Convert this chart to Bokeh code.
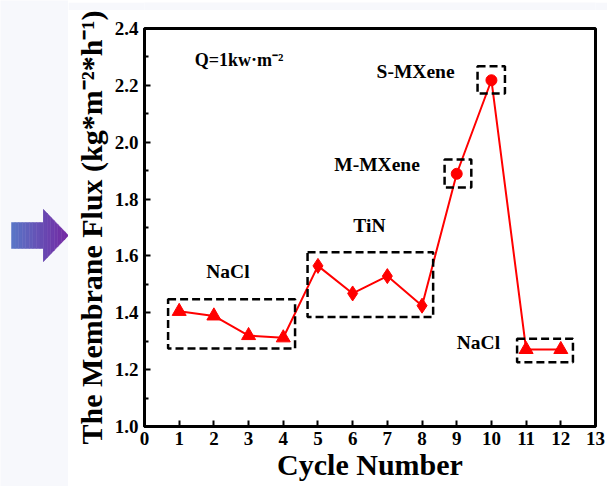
from bokeh.plotting import figure
from bokeh.layouts import row, column
from bokeh.models import ColumnDataSource, FixedTicker, Range1d, NumeralTickFormatter
from bokeh.core.properties import value
from bokeh.embed import file_html
from bokeh.resources import INLINE

# ---- data ----
cycles = [1, 2, 3, 4, 5, 6, 7, 8, 9, 10, 11, 12]
flux = [1.405, 1.389, 1.320, 1.312, 1.565, 1.468, 1.529, 1.425, 1.889, 2.218, 1.271, 1.271]
markers = ["triangle"] * 4 + ["diamond"] * 4 + ["circle"] * 2 + ["triangle"] * 2
msizes = [14] * 4 + [15] * 4 + [11] * 2 + [14] * 2

x_ticks = list(range(0, 14))
y_ticks = [1.0, 1.2, 1.4, 1.6, 1.8, 2.0, 2.2, 2.4]
y_minor = [1.1, 1.3, 1.5, 1.7, 1.9, 2.1, 2.3]

box_left = [0.68, 4.70, 8.65, 9.60, 10.74]
box_right = [4.34, 8.32, 9.42, 10.39, 12.35]
box_bottom = [1.274, 1.385, 1.841, 2.171, 1.226]
box_top = [1.448, 1.613, 1.939, 2.267, 1.309]

label_text = ["NaCl", "TiN", "M-MXene", "S-MXene", "NaCl"]
label_x = [1.78, 6.02, 5.47, 6.69, 9.00]
label_y = [1.544, 1.706, 1.921, 2.250, 1.297]

note_text = ["Q=1kw·m⁻²"]
note_x = [1.45]
note_y = [2.29]

# decorative arrow in the side panel (pixel units of that panel, y up)
arrow_xs = [11, 43, 43, 68, 43, 43, 11]
arrow_ys = [264, 264, 277, 251, 225, 238, 238]

FONT = "Liberation Serif"
PANEL_BG = "#f7f8fc"


def blank(width, height, xr, yr):
    f = figure(width=width, height=height, output_backend="svg", toolbar_location=None,
               x_range=Range1d(*xr), y_range=Range1d(*yr),
               x_axis_location=None, y_axis_location=None,
               min_border=0, min_border_left=0, min_border_right=0,
               min_border_top=0, min_border_bottom=0)
    f.grid.visible = False
    f.outline_line_color = None
    f.background_fill_color = PANEL_BG
    f.border_fill_color = PANEL_BG
    return f


# ---- side panel with arrow ----
side = blank(68, 486, (0, 68), (0, 486))
n = 16
for i in range(n):
    t = i / (n - 1)
    r = int(0x5a + (0x74 - 0x5a) * t)
    g = int(0x74 + (0x2a - 0x74) * t)
    b = int(0xc6 + (0xa4 - 0xc6) * t)
    col = "#%02x%02x%02x" % (r, g, b)
    x0 = 11 + (68 - 11) * i / n
    x1 = 11 + (68 - 11) * (i + 1) / n

    def half(x):
        if x <= 43:
            return 13
        return 26 * (68 - x) / 25

    if x0 < 43 < x1:
        xs = [x0, 43, 43, x1, x1, 43, 43, x0]
        ys = [251 - 13, 251 - 13, 251 - 26, 251 - half(x1), 251 + half(x1), 251 + 26, 251 + 13, 251 + 13]
    else:
        xs = [x0, x1, x1, x0]
        ys = [251 - half(x0), 251 - half(x1), 251 + half(x1), 251 + half(x0)]
    side.patch(xs, ys, fill_color=col, line_color=col, line_width=0.5)

top_strip = blank(539, 10, (0, 1), (0, 1))

# ---- main chart ----
p = figure(width=539, height=476, output_backend="svg", toolbar_location=None,
           x_range=Range1d(0, 13), y_range=Range1d(1.0, 2.4),
           min_border_left=76, min_border_right=12, min_border_top=18, min_border_bottom=60)
p.grid.visible = False
p.background_fill_color = "white"
p.border_fill_color = "white"
p.outline_line_color = "black"
p.outline_line_width = 3

p.xaxis.ticker = FixedTicker(ticks=x_ticks)
p.yaxis.ticker = FixedTicker(ticks=y_ticks, minor_ticks=y_minor)
p.yaxis.formatter = NumeralTickFormatter(format="0.0")

for ax in (p.xaxis[0], p.yaxis[0]):
    ax.axis_line_width = 3
    ax.axis_line_color = "black"
    ax.major_tick_in = 6
    ax.major_tick_out = 0
    ax.major_tick_line_width = 2
    ax.minor_tick_in = 4
    ax.minor_tick_out = 0
    ax.minor_tick_line_width = 2
    ax.major_label_text_font = FONT
    ax.major_label_text_font_style = "bold"
    ax.major_label_text_font_size = "19px"
    ax.major_label_text_color = "black"
    ax.axis_label_text_font = FONT
    ax.axis_label_text_font_style = "bold"
    ax.axis_label_text_color = "black"
p.xaxis.minor_tick_line_color = None
p.xaxis.major_label_standoff = 5
p.yaxis.major_label_standoff = 6

p.xaxis.axis_label = "Cycle Number"
p.xaxis.axis_label_text_font_size = "30px"
p.xaxis.axis_label_standoff = 0
p.yaxis.axis_label = "The Membrane Flux (kg*m⁻²*h⁻¹)"
p.yaxis.axis_label_text_font_size = "30px"
p.yaxis.axis_label_standoff = 4

src = ColumnDataSource(dict(x=cycles, y=flux, m=markers, s=msizes))
p.line("x", "y", source=src, line_color="red", line_width=2)
p.scatter("x", "y", source=src, marker="m", size="s", fill_color="red", line_color="red")

p.quad(left=box_left, right=box_right, bottom=box_bottom, top=box_top,
       fill_color=None, line_color="black", line_width=2.5, line_dash="8 4")

p.text(x=label_x, y=label_y, text=label_text, text_font=value(FONT),
       text_font_style="bold", text_font_size="19.5px", text_baseline="middle",
       text_align="left", text_color="black")
p.text(x=note_x, y=note_y, text=note_text, text_font=value(FONT),
       text_font_style="bold", text_font_size="18px", text_baseline="middle",
       text_align="left", text_color="black")

layout = row(side, column(top_strip, p, spacing=0), spacing=0)
open("out.html", "w").write(file_html(layout, INLINE))
